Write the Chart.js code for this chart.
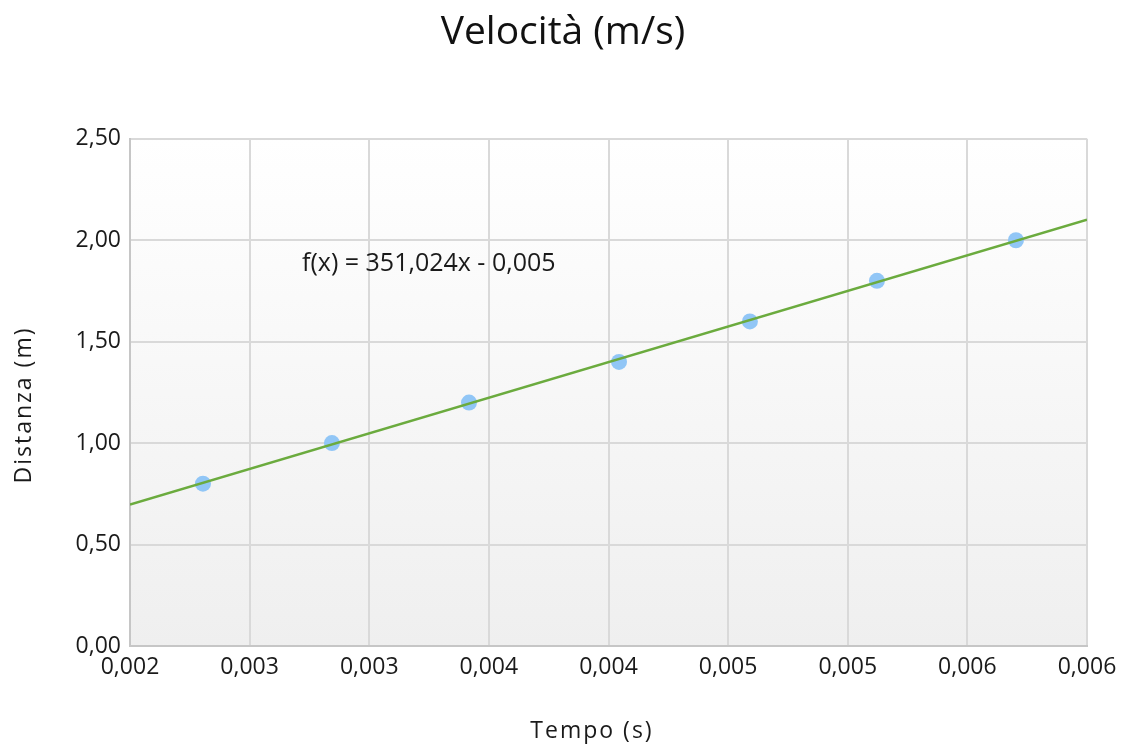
<!DOCTYPE html>
<html>
<head>
<meta charset="utf-8">
<script src="https://cdn.jsdelivr.net/npm/chart.js@4.4.1/dist/chart.umd.min.js"></script>
<style>
  html, body { margin: 0; padding: 0; background: #fff; }
  #wrap { width: 1126px; height: 746px; }
</style>
</head>
<body>
<div id="wrap"><canvas id="velChart"></canvas></div>
<script>
// measured points
const tempo = [0.002305, 0.002844, 0.003417, 0.004044, 0.004591, 0.005122, 0.005703];
const distanza = [0.80, 1.00, 1.20, 1.40, 1.60, 1.80, 2.00];

// trendline ends
const trendX = [0.002, 0.006];
const trendY = [0.697, 2.101];

const xTickLabels = ['0,002', '0,003', '0,003', '0,004', '0,004', '0,005', '0,005', '0,006', '0,006'];
const yTickLabels = ['0,00', '0,50', '1,00', '1,50', '2,00', '2,50'];

const equation = 'f(x) = 351,024x - 0,005';

const plotBg = {
    id: 'plotBg',
    beforeDraw(chart) {
        const { ctx, chartArea: a } = chart;
        const g = ctx.createLinearGradient(0, a.top, 0, a.bottom);
        g.addColorStop(0, '#ffffff');
        g.addColorStop(1, '#efefef');
        ctx.save();
        ctx.fillStyle = g;
        ctx.fillRect(a.left, a.top, a.right - a.left, a.bottom - a.top);
        ctx.restore();
    }
};

// equation label and spaced-out axis titles
const labels = {
    id: 'labels',
    afterDatasetsDraw(chart) {
        const { ctx, scales } = chart;
        ctx.save();
        ctx.font = '25px "Open Sans"';
        ctx.fillStyle = '#1a1a1a';
        ctx.textAlign = 'left';
        ctx.textBaseline = 'middle';
        ctx.fillText(equation, scales.x.getPixelForValue(0.002719), scales.y.getPixelForValue(1.884));

        ctx.font = '23px "Open Sans"';
        ctx.letterSpacing = '2px';
        ctx.textAlign = 'center';
        ctx.fillText('Tempo (s)', 592, 731);
        ctx.translate(24, 405);
        ctx.rotate(-Math.PI / 2);
        ctx.fillText('Distanza (m)', 0, 0);
        ctx.restore();
    }
};

const ctx1 = document.getElementById('velChart');
new Chart(ctx1, {
    type: 'scatter',
    data: {
        datasets: [{
            label: 'Distanza',
            data: tempo.map((t, i) => ({ x: t, y: distanza[i] })),
            backgroundColor: '#91c6f6',
            borderWidth: 0,
            pointRadius: 8,
            order: 2
        }, {
            label: 'Trend',
            type: 'line',
            data: trendX.map((t, i) => ({ x: t, y: trendY[i] })),
            borderColor: '#6bab3e',
            borderWidth: 2.5,
            pointRadius: 0,
            fill: false,
            order: 1
        }]
    },
    options: {
        responsive: true,
        maintainAspectRatio: false,
        animation: false,
        layout: { padding: 0 },
        plugins: {
            legend: { display: false },
            tooltip: { enabled: false },
            title: {
                display: true,
                text: 'Velocità (m/s)',
                color: '#111',
                font: { family: '"Open Sans"', size: 39, weight: 'normal' },
                padding: { top: 9, bottom: 83 }
            }
        },
        scales: {
            x: {
                type: 'linear',
                min: 0.002,
                max: 0.006,
                afterBuildTicks(scale) {
                    scale.ticks = xTickLabels.map((_, i) => ({ value: 0.002 + i * 0.0005 }));
                },
                afterFit(scale) { scale.height = 100; },
                ticks: {
                    callback: (v, i) => xTickLabels[i],
                    color: '#1a1a1a',
                    font: { family: '"Open Sans"', size: 23 },
                    padding: 8,
                    maxRotation: 0,
                    autoSkip: false
                },
                grid: { color: '#d9d9d9', lineWidth: 2, drawTicks: false },
                border: { color: '#c6c6c6', width: 2 }
            },
            y: {
                min: 0,
                max: 2.5,
                afterBuildTicks(scale) {
                    scale.ticks = yTickLabels.map((_, i) => ({ value: i * 0.5 }));
                },
                afterFit(scale) { scale.width = 130; },
                ticks: {
                    callback: (v, i) => yTickLabels[i],
                    color: '#1a1a1a',
                    font: { family: '"Open Sans"', size: 23 },
                    padding: 9
                },
                grid: { color: '#d9d9d9', lineWidth: 2, drawTicks: false },
                border: { color: '#c6c6c6', width: 2 }
            },
            // empty right-hand strip so the title stays centred on the page
            yRight: {
                position: 'right',
                min: 0,
                max: 2.5,
                afterFit(scale) { scale.width = 39; },
                ticks: { display: false },
                grid: { display: false, drawTicks: false },
                border: { display: false }
            }
        }
    },
    plugins: [plotBg, labels]
});
</script>
</body>
</html>
